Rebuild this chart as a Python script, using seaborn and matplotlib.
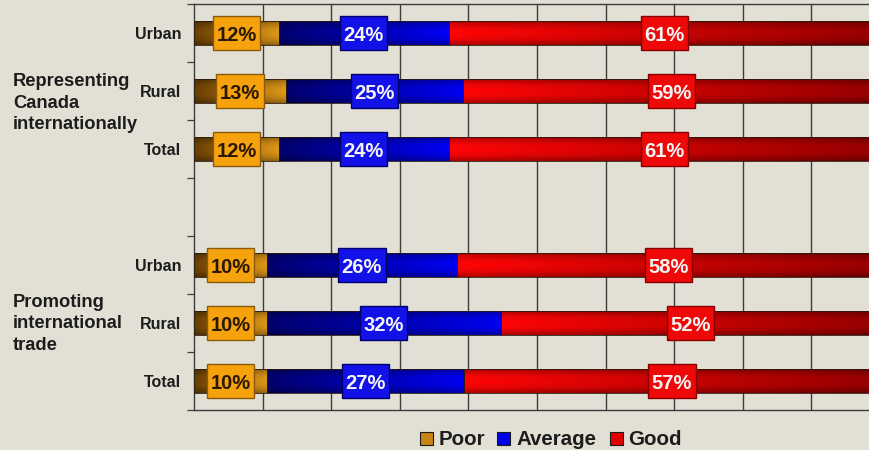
import numpy as np
import pandas as pd
import matplotlib
matplotlib.use("Agg")
import matplotlib.pyplot as plt
import seaborn as sns
from matplotlib.patches import Rectangle
from matplotlib.colors import to_rgb

# values (shares in %, per row)
groups = ["Representing\nCanada\ninternationally", "Promoting\ninternational\ntrade"]
areas = ["Urban", "Rural", "Total"]
series = ["Poor", "Average", "Good"]
poor = [12, 13, 12, 10, 10, 10]
average = [24, 25, 24, 26, 32, 27]
good = [61, 59, 61, 58, 52, 57]

row_keys = ["R-Urban", "R-Rural", "R-Total", "P-Urban", "P-Rural", "P-Total"]
order = ["R-Urban", "R-Rural", "R-Total", "gap", "P-Urban", "P-Rural", "P-Total"]
tick_labels = ["Urban", "Rural", "Total", "", "Urban", "Rural", "Total"]

bg = "#e2e0d5"
ink = "#1c1c1c"
grid_c = "#3c3c3c"
# left / right colour of the gradient in each segment
grad_cols = {"Poor": ("#6a3f02", "#dc9618"),
             "Average": ("#00006e", "#0000f2"),
             "Good": ("#ff0505", "#960000")}
box_cols = {"Poor": ("#f5a20c", "#8a5a0c", "#2a1800"),
            "Average": ("#1212e8", "#00006a", "#f4f4f4"),
            "Good": ("#ee0808", "#860000", "#f4f4f4")}
legend_cols = {"Poor": "#c98412", "Average": "#0000e6", "Good": "#e20000"}

# 100% stacked: normalise each row by its own total
df = pd.DataFrame({"row": row_keys, "Poor": poor, "Average": average, "Good": good})
tot = df[series].sum(axis=1)
shares = df[series].div(tot, axis=0) * 100
starts = shares.cumsum(axis=1) - shares

long = df.melt(id_vars="row", value_vars=series, var_name="series", value_name="value")
long["share"] = [shares.loc[row_keys.index(r), s] for r, s in zip(long["row"], long["series"])]

sns.set_style("white")
plt.rcParams["font.family"] = ["Liberation Sans", "DejaVu Sans"]
plt.rcParams["font.weight"] = "bold"

fig = plt.figure(figsize=(8.69, 4.5), dpi=100, facecolor=bg)
ax = fig.add_axes([194 / 869, 1 - 410 / 450, 686 / 869, 406 / 450])
ax.set_facecolor(bg)

bar_h = 0.4
box_w, box_h = 6.9, 0.59
for s in series:
    n0 = len(ax.patches)
    sns.barplot(data=long[long["series"] == s], x="share", y="row", order=order,
                orient="h", color=grad_cols[s][1], width=bar_h, errorbar=None, ax=ax)
    new_bars = list(ax.patches[n0:])
    for p in new_bars:
        yc = p.get_y() + p.get_height() / 2
        i = row_keys.index(order[int(round(yc))])
        x0 = starts.loc[i, s]
        w = shares.loc[i, s]
        p.set_x(x0)
        p.set_width(w)
        p.set_facecolor("none")
        p.set_edgecolor("#2a1a10")
        p.set_linewidth(0.6)
        p.set_zorder(3)
        # shaded fill: left->right colour ramp, darker at top/bottom edges
        c0 = np.array(to_rgb(grad_cols[s][0]))
        c1 = np.array(to_rgb(grad_cols[s][1]))
        t = np.linspace(0, 1, 64)
        row_c = c0[None, :] * (1 - t[:, None]) + c1[None, :] * t[:, None]
        v = np.linspace(-1, 1, 24)
        shade = 1 - 0.32 * np.abs(v) ** 2.2
        img = np.clip(row_c[None, :, :] * shade[:, None, None], 0, 1)
        ax.imshow(img, extent=(x0, x0 + w, yc + bar_h / 2, yc - bar_h / 2),
                  aspect="auto", interpolation="bilinear", zorder=2)
        # value label box
        fc, ec, tc = box_cols[s]
        xc = x0 + w / 2
        ax.add_patch(Rectangle((xc - box_w / 2, yc - box_h / 2), box_w, box_h,
                               facecolor=fc, edgecolor=ec, linewidth=1.0, zorder=4))
        ax.text(xc, yc, f"{df.loc[i, s]}%", ha="center", va="center_baseline", fontsize=14.5,
                fontweight="bold", color=tc, zorder=5)

ax.set_xlim(0, 100)
ax.set_ylim(6.5, -0.5)
ax.set_xticks(np.arange(10, 100, 10))
ax.set_xticklabels([])
ax.tick_params(axis="x", length=0)
ax.grid(axis="x", color=grid_c, linewidth=1.0, zorder=1)
ax.grid(axis="y", visible=False)
ax.set_axisbelow(True)

ax.set_yticks(range(len(order)))
ax.set_yticklabels(tick_labels, fontsize=11.5, fontweight="bold", color=ink)
ax.set_yticks(np.arange(-0.5, len(order), 1), minor=True)
ax.tick_params(axis="y", which="major", length=0, pad=9)
ax.tick_params(axis="y", which="minor", length=5, width=0.9, color=grid_c, direction="out", left=True)
ax.set_xlabel("")
ax.set_ylabel("")
for side in ["left", "bottom", "top", "right"]:
    ax.spines[side].set_visible(True)
    ax.spines[side].set_color(grid_c)
    ax.spines[side].set_linewidth(1.0)

# group captions on the left
fig.text(13 / 869, 1 - 103 / 450, groups[0], ha="left", va="center", fontsize=13.2,
         fontweight="bold", color=ink, linespacing=1.38)
fig.text(13 / 869, 1 - 324 / 450, groups[1], ha="left", va="center", fontsize=13.2,
         fontweight="bold", color=ink, linespacing=1.38)

# legend row at the bottom (square + label, sharing one baseline)
leg_sq_x = [420, 497, 610]
leg_tx_x = [439, 516, 628]
for s, sx, tx in zip(series, leg_sq_x, leg_tx_x):
    fig.add_artist(Rectangle((sx / 869, 1 - 445 / 450), 13 / 869, 13 / 450,
                             transform=fig.transFigure, facecolor=legend_cols[s],
                             edgecolor="#1a1a1a", linewidth=0.8))
    fig.text(tx / 869, 1 - 445 / 450, s, ha="left", va="baseline", fontsize=14.8,
             fontweight="bold", color=ink)

fig.savefig("out.png", dpi=100, facecolor=bg)
